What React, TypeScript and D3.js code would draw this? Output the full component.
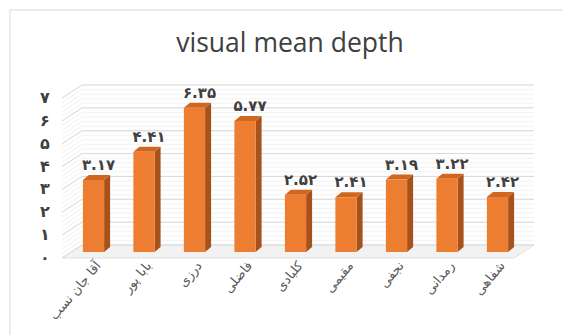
import React from "react";
import * as d3 from "d3";

const categories = ["آقا جان نسب", "بابا پور", "درزی", "فاضلی", "کلبادی", "مقیمی", "نجفی", "رمدانی", "شفاهی"];
const values = [3.17, 4.41, 6.35, 5.77, 2.52, 2.41, 3.19, 3.22, 2.42];
const valueLabels = ["۳.۱۷", "۴.۴۱", "۶.۳۵", "۵.۷۷", "۲.۵۲", "۲.۴۱", "۳.۱۹", "۳.۲۲", "۲.۴۲"];
const yTicks = [0, 1, 2, 3, 4, 5, 6, 7];
const yTickLabels = ["۰", "۱", "۲", "۳", "۴", "۵", "۶", "۷"];
const title = "visual mean depth";

const W = 563;
const H = 335;

export default function App() {
  const DX = 20, DY = -13;
  const wallLeft = 62, wallRight = 514;
  const yFront = d3.scaleLinear().domain([0, 7]).range([258, 98]);
  const yBar = d3.scaleLinear().domain([0, 7]).range([252, 93]);
  const x = d3.scaleBand<string>().domain(categories).range([68.25, 522.75]).paddingInner(0.58).paddingOuter(0.29);
  const bw = x.bandwidth();
  const sdx = 6, sdy = -5;

  const minor = d3.range(0, 7.0001, 0.2);

  return (
    <div style={{ position: "absolute", left: 0, top: 0 }}>
      <svg width={W} height={H} style={{ display: "block", background: "#fff" }}>
        <rect x={10} y={10} width={560} height={330} fill="#fff" stroke="#d9d9d9" strokeWidth={1} />
        <text x={290} y={52} textAnchor="middle" fontFamily="'Open Sans', sans-serif" fontSize={26.5} fill="#404040">{title}</text>

        <polygon
          points={`${wallLeft},${yFront(0)} ${wallRight},${yFront(0)} ${wallRight + DX},${yFront(0) + DY} ${wallLeft + DX},${yFront(0) + DY}`}
          fill="#f2f2f2" stroke="#d9d9d9" strokeWidth={0.8}
        />
        {minor.map((v, i) => (
          <g key={"m" + i}>
            <line x1={wallLeft} y1={yFront(v)} x2={wallLeft + DX} y2={yFront(v) + DY} stroke="#ececec" strokeWidth={0.8} />
            <line x1={wallLeft + DX} y1={yFront(v) + DY} x2={wallRight + DX} y2={yFront(v) + DY} stroke="#efefef" strokeWidth={0.8} />
          </g>
        ))}
        {yTicks.map((v) => (
          <g key={"g" + v}>
            <line x1={wallLeft} y1={yFront(v)} x2={wallLeft + DX} y2={yFront(v) + DY} stroke="#d9d9d9" strokeWidth={1} />
            <line x1={wallLeft + DX} y1={yFront(v) + DY} x2={wallRight + DX} y2={yFront(v) + DY} stroke="#d9d9d9" strokeWidth={1} />
          </g>
        ))}

        {yTicks.map((v, i) => (
          <text key={"t" + v} x={45} y={yFront(v) + 5} textAnchor="middle" fontFamily="'DejaVu Sans', sans-serif" fontWeight="bold" fontSize={16} fill="#404040">{yTickLabels[i]}</text>
        ))}

        {categories.map((c, i) => {
          const x0 = x(c) as number;
          const y0 = yBar(0);
          const yt = yBar(values[i]);
          return (
            <g key={"b" + i}>
              <polygon points={`${x0 + bw},${y0} ${x0 + bw + sdx},${y0 + sdy} ${x0 + bw + sdx},${yt + sdy} ${x0 + bw},${yt}`} fill="#a8521b" />
              <polygon points={`${x0},${yt} ${x0 + bw},${yt} ${x0 + bw + sdx},${yt + sdy} ${x0 + sdx},${yt + sdy}`} fill="#d0661f" />
              <rect x={x0} y={yt} width={bw} height={y0 - yt} fill="#ed7d31" />
              <text x={x0 + bw / 2 + 5} y={yt + sdy - 5} textAnchor="middle" fontFamily="'DejaVu Sans', sans-serif" fontWeight="bold" fontSize={15} fill="#404040">{valueLabels[i]}</text>
            </g>
          );
        })}

        {categories.map((c, i) => {
          const cx = (x(c) as number) + bw / 2 + 8;
          return (
            <text key={"c" + i} transform={`translate(${cx},266) rotate(-50)`} textAnchor="end" fontFamily="'DejaVu Sans', sans-serif" fontSize={13} fill="#595959">{c}</text>
          );
        })}
      </svg>
    </div>
  );
}
